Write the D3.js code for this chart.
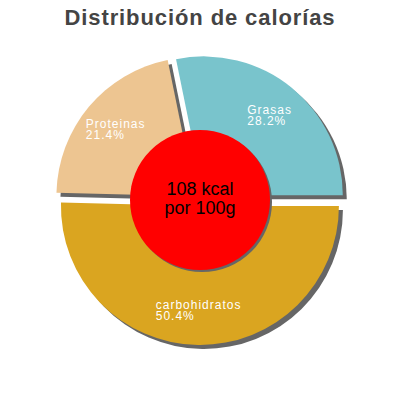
<!DOCTYPE html>
<html>
<head>
<meta charset="utf-8">
<script src="https://cdn.jsdelivr.net/npm/d3@7"></script>
<style>
  html, body { margin: 0; padding: 0; background: #fff; }
  svg { display: block; }
</style>
</head>
<body>
<svg id="chart" width="400" height="400"></svg>
<script>
// Data (clockwise from 3 o'clock)
const categories = ["carbohidratos", "Proteinas", "Grasas"];
const percentages = [50.4, 21.4, 28.2];
const colors = ["#daa520", "#edc591", "#79c4cc"];
const titleText = "Distribución de calorías";
const centerLines = ["108 kcal", "por 100g"];

const svg = d3.select("#chart");
const W = 400, cx = 200, cy = 200;
const R = 139, explode = 6, innerR = 70, labelR = 104;

svg.append("text")
  .attr("x", cx).attr("y", 25)
  .attr("text-anchor", "middle")
  .attr("font-family", "Liberation Sans, Arial, sans-serif")
  .attr("font-weight", "bold")
  .attr("font-size", 22)
  .attr("letter-spacing", 0.9)
  .attr("fill", "#444")
  .text(titleText);

const data = categories.map((c, i) => ({ name: c, value: percentages[i], color: colors[i] }));
const pie = d3.pie().value(d => d.value).sort(null)
  .startAngle(Math.PI / 2).endAngle(Math.PI / 2 + 2 * Math.PI);
const arcs = pie(data);
const arcGen = d3.arc().innerRadius(0).outerRadius(R);

function off(a, r) {
  const m = (a.startAngle + a.endAngle) / 2;
  return [Math.sin(m) * r, -Math.cos(m) * r];
}

const g = svg.append("g").attr("transform", `translate(${cx},${cy})`);

// shadows
g.selectAll("path.shadow").data(arcs).enter().append("path")
  .attr("class", "shadow")
  .attr("d", arcGen)
  .attr("fill", "#666")
  .attr("transform", d => { const o = off(d, explode); return `translate(${o[0] + 4},${o[1] + 4})`; });

// slices
g.selectAll("path.slice").data(arcs).enter().append("path")
  .attr("class", "slice")
  .attr("d", arcGen)
  .attr("fill", d => d.data.color)
  .attr("transform", d => { const o = off(d, explode); return `translate(${o[0]},${o[1]})`; });

// labels
arcs.forEach(a => {
  const o = off(a, explode + labelR);
  const t = g.append("text")
    .attr("font-family", "Liberation Sans, Arial, sans-serif")
    .attr("font-size", 12)
    .attr("letter-spacing", 1)
    .attr("fill", "#fff");
  const l1 = t.append("tspan").text(a.data.name);
  const l2 = t.append("tspan").text(a.data.value.toFixed(1) + "%");
  const w = Math.max(l1.node().getComputedTextLength(), l2.node().getComputedTextLength());
  const x0 = o[0] - w / 2;
  l1.attr("x", x0).attr("y", o[1] - 1);
  l2.attr("x", x0).attr("y", o[1] + 10);
});

// center circle
g.append("circle").attr("cx", 2).attr("cy", 2).attr("r", innerR).attr("fill", "#666");
g.append("circle").attr("cx", 0).attr("cy", 0).attr("r", innerR).attr("fill", "#ff0000");
g.append("text")
  .attr("text-anchor", "middle")
  .attr("font-family", "Liberation Sans, Arial, sans-serif")
  .attr("font-size", 18)
  .attr("fill", "#000")
  .selectAll("tspan").data(centerLines).enter().append("tspan")
  .attr("x", 0)
  .attr("y", (d, i) => -5 + i * 19)
  .text(d => d);
</script>
</body>
</html>
